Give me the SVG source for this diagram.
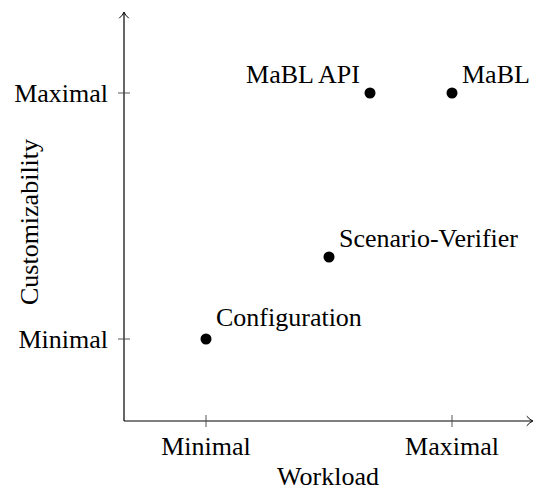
<svg xmlns="http://www.w3.org/2000/svg" width="537" height="492" viewBox="0 0 537 492">
<style>
text{font-family:"Liberation Serif","Times New Roman",serif;font-size:26px;fill:#000}
.ax{stroke:#000;stroke-width:1.2;fill:none}
.tick{stroke:#444;stroke-width:0.9}
.head{stroke:#000;stroke-width:1;fill:none;stroke-linecap:round;stroke-linejoin:round}
.dot{fill:#000}
</style>
<rect width="537" height="492" fill="#fff"/>
<g id="axes">
<path class="ax" d="M124,421 L124,13"/>
<path class="ax" d="M124,421 L532,421"/>
<path class="head" d="M119.5,18 Q123,15 124,12 Q125,15 128.5,18"/>
<path class="head" d="M527,416.5 Q530,420 533,421 Q530,422 527,425.5"/>
<line class="tick" x1="118" y1="93" x2="130" y2="93"/>
<line class="tick" x1="118" y1="339" x2="130" y2="339"/>
<line class="tick" x1="206" y1="415" x2="206" y2="427"/>
<line class="tick" x1="452" y1="415" x2="452" y2="427"/>
<text x="108" y="102" text-anchor="end">Maximal</text>
<text x="108" y="348" text-anchor="end">Minimal</text>
<text x="206" y="455" text-anchor="middle">Minimal</text>
<text x="452" y="455" text-anchor="middle">Maximal</text>
<text x="328" y="485" text-anchor="middle">Workload</text>
<text transform="translate(38,222) rotate(-90)" text-anchor="middle">Customizability</text>
</g>
<g id="configuration">
<circle class="dot" cx="206" cy="339" r="5.5"/>
<text x="216" y="326">Configuration</text>
</g>
<g id="scenario-verifier">
<circle class="dot" cx="329" cy="257" r="5.5"/>
<text x="339" y="247">Scenario-Verifier</text>
</g>
<g id="mabl-api">
<circle class="dot" cx="370" cy="93" r="5.5"/>
<text x="360" y="83" text-anchor="end">MaBL API</text>
</g>
<g id="mabl">
<circle class="dot" cx="452" cy="93" r="5.5"/>
<text x="462" y="83">MaBL</text>
</g>
<g id="connectors"></g>
</svg>
